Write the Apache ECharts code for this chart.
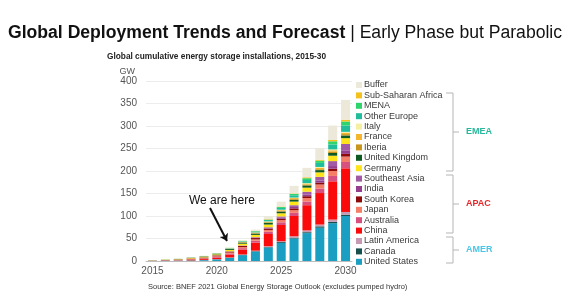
<!DOCTYPE html>
<html>
<head>
<meta charset="utf-8">
<script src="https://cdn.jsdelivr.net/npm/echarts@6/dist/echarts.min.js"></script>
<style>
  html, body { margin: 0; padding: 0; background: #fff; }
  #chart { width: 572px; height: 308px; }
</style>
</head>
<body>
<div id="chart"></div>
<script>
// years on the x axis
const years = ['2015', '2016', '2017', '2018', '2019', '2020', '2021', '2022', '2023', '2024', '2025', '2026', '2027', '2028', '2029', '2030']
const yTicks = [0, 50, 100, 150, 200, 250, 300, 350, 400]

// cumulative GW per market
const unitedStates = [0.5, 0.6, 0.8, 1.1, 1.8, 3.5, 7, 13, 21, 30, 40, 50, 62, 74, 84, 100]
const canada = [0.05, 0.1, 0.1, 0.1, 0.2, 0.3, 0.5, 0.8, 1, 1, 2, 2, 2, 3, 3, 3]
const latinAmerica = [0.05, 0.1, 0.1, 0.1, 0.2, 0.3, 0.5, 0.7, 1, 2, 2, 3, 4, 4, 5, 6]
const china = [0.2, 0.4, 0.6, 1.3, 2, 3.5, 6.5, 11, 18, 27, 36, 45, 56, 70, 85, 97]
const australia = [0.1, 0.2, 0.3, 0.5, 0.9, 1.5, 2.3, 3, 4, 5, 6, 7, 8, 10, 12, 14]
const japan = [0.3, 0.4, 0.5, 0.7, 0.9, 1.3, 2, 2.5, 3, 4, 5, 6, 8, 9, 11, 12]
const southKorea = [0.2, 0.4, 0.8, 1.6, 1.8, 2, 2.2, 2.5, 3, 3, 3, 4, 4, 4, 5, 6]
const india = [0, 0, 0.05, 0.1, 0.1, 0.2, 0.3, 0.5, 1, 1, 2, 3, 4, 5, 6, 8]
const southeastAsia = [0, 0, 0.05, 0.1, 0.1, 0.2, 0.3, 0.5, 1, 2, 3, 4, 6, 8, 11, 14]
const germany = [0.3, 0.5, 0.8, 1.1, 1.5, 2, 3, 4, 5, 6, 7, 8, 9, 10, 12, 13]
const unitedKingdom = [0.1, 0.2, 0.3, 0.5, 0.8, 1.3, 2, 2.5, 3, 4, 4, 4, 5, 5, 6, 6]
const iberia = [0.1, 0.1, 0.1, 0.1, 0.2, 0.3, 0.5, 0.7, 1, 1, 1, 2, 2, 2, 3, 3]
const france = [0.1, 0.1, 0.1, 0.1, 0.2, 0.3, 0.5, 0.8, 1, 1, 2, 2, 2, 3, 3, 3]
const italy = [0.1, 0.1, 0.1, 0.1, 0.1, 0.2, 0.4, 0.5, 0.5, 1, 1, 1, 1, 2, 2, 2]
const otherEurope = [0.1, 0.2, 0.2, 0.2, 0.3, 0.4, 0.8, 1.2, 2, 3, 4, 5, 7, 9, 11, 14]
const mena = [0.05, 0.1, 0.1, 0.1, 0.1, 0.2, 0.3, 0.5, 1, 1, 2, 3, 4, 5, 7, 9]
const subSaharanAfrica = [0.05, 0.1, 0.1, 0.1, 0.1, 0.1, 0.2, 0.3, 0.5, 1, 1, 1, 2, 2, 3, 4]
const buffer = [0, 0, 0, 0, 0, 0, 0.2, 1, 3, 7, 11, 17, 21, 26, 32, 44]

const seriesList = [
  { name: 'United States', data: unitedStates, color: '#1a9ec2' },
  { name: 'Canada', data: canada, color: '#174f4f' },
  { name: 'Latin America', data: latinAmerica, color: '#c79ab4' },
  { name: 'China', data: china, color: '#fa0a0a' },
  { name: 'Australia', data: australia, color: '#d8507e' },
  { name: 'Japan', data: japan, color: '#f47e68' },
  { name: 'South Korea', data: southKorea, color: '#8e0a0a' },
  { name: 'India', data: india, color: '#953e8e' },
  { name: 'Southeast Asia', data: southeastAsia, color: '#a15aa3' },
  { name: 'Germany', data: germany, color: '#ffe41a' },
  { name: 'United Kingdom', data: unitedKingdom, color: '#0e5a20' },
  { name: 'Iberia', data: iberia, color: '#c8961e' },
  { name: 'France', data: france, color: '#f3b62d' },
  { name: 'Italy', data: italy, color: '#f6efa2' },
  { name: 'Other Europe', data: otherEurope, color: '#1fbd9b' },
  { name: 'MENA', data: mena, color: '#2fd56c' },
  { name: 'Sub-Saharan Africa', data: subSaharanAfrica, color: '#f3c01c' },
  { name: 'Buffer', data: buffer, color: '#ece8da' }
]

const chart = echarts.init(document.getElementById('chart'))
const font = '"Liberation Sans", Arial, sans-serif'

// region brackets next to the legend
function bracket(y1, y2, label, color) {
  const x = 453
  const mid = (y1 + y2) / 2
  return [
    {
      type: 'polyline',
      shape: { points: [[446, y1], [x, y1], [x, y2], [446, y2]] },
      style: { stroke: '#b5b5b5', lineWidth: 1, fill: null }
    },
    {
      type: 'line',
      shape: { x1: x, y1: mid, x2: x + 6, y2: mid },
      style: { stroke: '#b5b5b5', lineWidth: 1 }
    },
    {
      type: 'text',
      x: x + 13,
      y: mid,
      style: { text: label, fill: color, font: 'bold 9px ' + font, textVerticalAlign: 'middle' }
    }
  ]
}

const option = {
  animation: false,
  textStyle: { fontFamily: font },
  title: [
    {
      text: '{b|Global Deployment Trends and Forecast} | Early Phase but Parabolic',
      left: 3,
      top: 19,
      textStyle: {
        fontSize: 17.6,
        fontWeight: 'normal',
        color: '#111',
        fontFamily: font,
        rich: { b: { fontSize: 17.6, fontWeight: 'bold', color: '#111', fontFamily: font } }
      }
    },
    {
      text: 'Global cumulative energy storage installations, 2015-30',
      left: 102,
      top: 48,
      textStyle: { fontSize: 8.3, fontWeight: 'bold', color: '#222', fontFamily: font }
    },
    {
      text: 'Source: BNEF 2021 Global Energy Storage Outlook (excludes pumped hydro)',
      left: 143,
      top: 278,
      textStyle: { fontSize: 7.5, fontWeight: 'normal', color: '#333', fontFamily: font }
    }
  ],
  grid: { left: 146, right: 220, top: 81, bottom: 47, containLabel: false },
  legend: {
    orient: 'vertical',
    left: 351,
    top: 75,
    icon: 'rect',
    itemWidth: 6,
    itemHeight: 6,
    itemGap: 0.4,
    selectedMode: false,
    textStyle: { fontSize: 9, lineHeight: 10, color: '#3a3a3a', padding: [0, 0, 0, -3] },
    data: seriesList.map(s => s.name).reverse()
  },
  xAxis: {
    type: 'category',
    data: years,
    axisTick: { show: false },
    axisLine: { lineStyle: { color: '#bdbdbd' } },
    axisLabel: {
      color: '#555',
      fontSize: 10,
      margin: 5,
      interval: 0,
      formatter: v => (Number(v) % 5 === 0 ? v : '')
    }
  },
  yAxis: {
    type: 'value',
    min: yTicks[0],
    max: yTicks[yTicks.length - 1],
    interval: 50,
    name: 'GW',
    nameGap: 4,
    nameTextStyle: { color: '#555', fontSize: 9, align: 'right', padding: [0, 11, 0, 0] },
    axisLine: { show: false },
    axisTick: { show: false },
    axisLabel: { color: '#555', fontSize: 10, margin: 9 },
    splitLine: { lineStyle: { color: '#ececec', width: 1 } }
  },
  series: seriesList.map((s, i) => {
    const item = {
      name: s.name,
      type: 'bar',
      stack: 'total',
      barWidth: '70%',
      data: s.data,
      itemStyle: { color: s.color }
    }
    if (i === 0) {
      // "we are here" arrow
      item.markLine = {
        silent: true,
        symbol: ['none', 'arrow'],
        symbolSize: 7,
        label: { show: false },
        lineStyle: { color: '#111', width: 2, type: 'solid' },
        data: [[{ x: 210, y: 208 }, { x: 227, y: 241 }]]
      }
    }
    return item
  }),
  graphic: [
    {
      type: 'text',
      x: 189,
      y: 195,
      style: { text: 'We are here', fill: '#111', font: '12px ' + font }
    },
    ...bracket(93, 171, 'EMEA', '#27b89b'),
    ...bracket(175, 233, 'APAC', '#e8262a'),
    ...bracket(237, 263, 'AMER', '#4cc6e6')
  ]
}

chart.setOption(option)
</script>
</body>
</html>
